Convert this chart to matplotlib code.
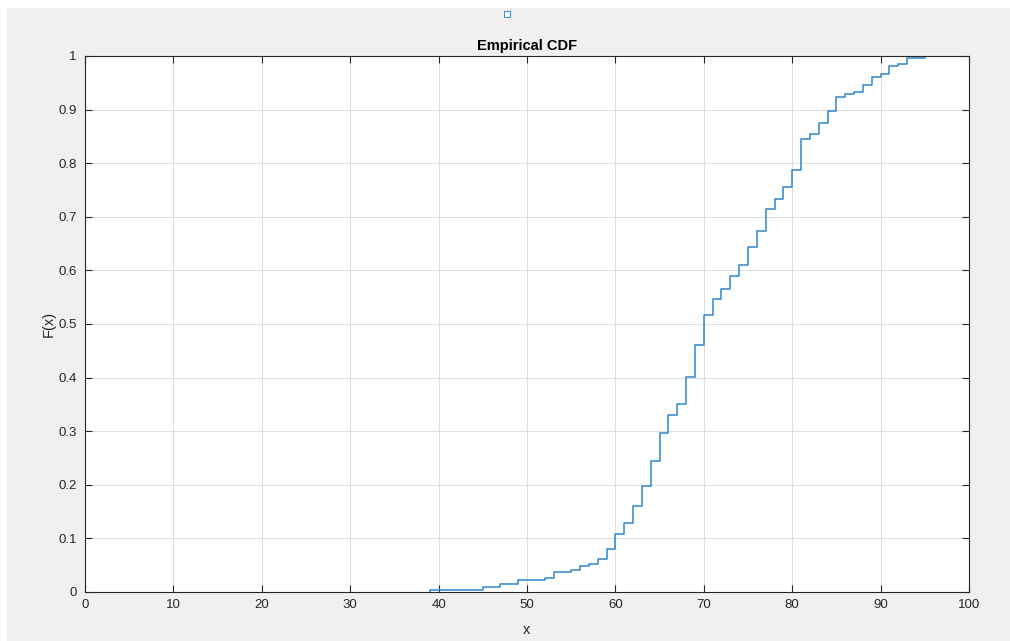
import matplotlib
matplotlib.use("Agg")
import matplotlib.pyplot as plt
from matplotlib.patches import Rectangle

plt.rcParams['font.family'] = ['Liberation Sans', 'DejaVu Sans']

# Step positions (x) and ECDF values F(x)
x_steps = [39, 45, 47, 49, 52, 53, 55, 56, 57, 58, 59, 60, 61, 62, 63, 64, 65, 66, 67, 68,
           69, 70, 71, 72, 73, 74, 75, 76, 77, 78, 79, 80, 81, 82, 83, 84, 85, 86, 87, 88,
           89, 90, 91, 92, 93, 95]
f_vals = [0.003, 0.009, 0.014, 0.022, 0.026, 0.038, 0.041, 0.048, 0.053, 0.062, 0.081,
          0.109, 0.128, 0.160, 0.197, 0.244, 0.296, 0.330, 0.351, 0.402, 0.461, 0.516,
          0.546, 0.565, 0.589, 0.611, 0.644, 0.674, 0.714, 0.733, 0.755, 0.788, 0.846,
          0.854, 0.875, 0.897, 0.923, 0.930, 0.933, 0.946, 0.960, 0.967, 0.982, 0.986,
          0.997, 1.0]
x_ticks = [0, 10, 20, 30, 40, 50, 60, 70, 80, 90, 100]
y_ticks = [0, 0.1, 0.2, 0.3, 0.4, 0.5, 0.6, 0.7, 0.8, 0.9, 1]
y_tick_labels = ['0', '0.1', '0.2', '0.3', '0.4', '0.5', '0.6', '0.7', '0.8', '0.9', '1']

W, H = 1010, 641
fig = plt.figure(figsize=(W / 100, H / 100), dpi=100, facecolor='white')
# gray figure panel (white strip on top/left)
fig.add_artist(Rectangle((7 / W, 0), 1 - 7 / W, 1 - 8 / H, transform=fig.transFigure,
                         facecolor='#f0f0f0', edgecolor='none', zorder=-10))
# small legend-like square at top
fig.add_artist(Rectangle(((507 - 3) / W, 1 - (14 + 3) / H), 6 / W, 6 / H,
                         transform=fig.transFigure, facecolor='white',
                         edgecolor='#3f94d4', linewidth=0.8, zorder=5))

ax = fig.add_axes([85 / W, 1 - 592 / H, (969 - 85) / W, (592 - 56) / H])
ax.set_facecolor('white')

xs = [x_steps[0]] + x_steps
fs = [0.0] + f_vals
ax.step(xs, fs, where='post', color='#2f86cc', linewidth=1.1)

ax.set_xlim(0, 100)
ax.set_ylim(0, 1)
ax.set_xticks(x_ticks)
ax.set_yticks(y_ticks)
ax.set_yticklabels(y_tick_labels)
ax.grid(True, color='#dcdcdc', linewidth=0.7)
ax.set_axisbelow(True)

tc = '#262626'
for s in ax.spines.values():
    s.set_color(tc)
    s.set_linewidth(0.8)
ax.tick_params(direction='in', length=5, width=0.8, color=tc, labelcolor=tc,
               labelsize=9.5, top=True, right=True)
ax.tick_params(axis='x', pad=5)
ax.tick_params(axis='y', pad=6)

ax.set_title('Empirical CDF', fontsize=10.5, fontweight='bold', color='black', pad=4)
ax.set_xlabel('x', fontsize=10.5, color=tc, labelpad=9)
ax.set_ylabel('F(x)', fontsize=10.5, color=tc, labelpad=2)

fig.savefig('out.png', dpi=100, facecolor=fig.get_facecolor())
